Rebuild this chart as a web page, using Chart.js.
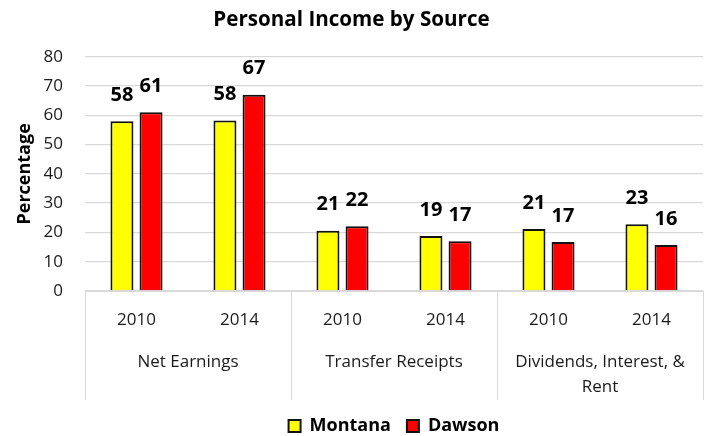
<!DOCTYPE html>
<html>
<head>
<meta charset="utf-8">
<script src="https://cdn.jsdelivr.net/npm/chart.js@4.4.1/dist/chart.umd.min.js"></script>
<style>
	html, body { margin:0; padding:0; background:#fff; }
	#wrap { width:705px; height:436px; position:relative; }
</style>
</head>
<body>
<div id="wrap"><canvas id="canvas"></canvas></div>
<script>
// chart data
var years = ['2010', '2014', '2010', '2014', '2010', '2014'];
var groups = ['Net Earnings', 'Transfer Receipts', ['Dividends, Interest, &', 'Rent']];
var montana = [58.0, 58.2, 20.6, 18.8, 21.2, 22.8];
var dawson = [61.0, 67.0, 22.1, 17.0, 16.7, 15.7];
var yTicks = [0, 10, 20, 30, 40, 50, 60, 70, 80];

Chart.defaults.font.family = "'Open Sans', sans-serif";
Chart.defaults.color = '#222';

// bold value on top of each bar
var barLabels = {
	id: 'barLabels',
	afterDatasetsDraw: function(chart) {
		var ctx = chart.ctx;
		ctx.save();
		ctx.font = 'bold 20px "Open Sans"';
		ctx.fillStyle = '#000';
		ctx.textAlign = 'center';
		ctx.textBaseline = 'middle';
		chart.data.datasets.forEach(function(ds, i) {
			chart.getDatasetMeta(i).data.forEach(function(bar, j) {
				ctx.fillText(Math.round(ds.data[j]), bar.x, bar.y - 26);
			});
		});
		ctx.restore();
	}
};

// vertical separators between the category groups
var groupLines = {
	id: 'groupLines',
	afterDraw: function(chart) {
		var x = chart.scales.x;
		var x2 = chart.scales.x2;
		var ctx = chart.ctx;
		var edges = [x.left];
		for (var i = 1; i < years.length; i += 2) {
			if (i + 1 < years.length) edges.push((x.getPixelForValue(i) + x.getPixelForValue(i + 1)) / 2);
		}
		edges.push(x.right);
		ctx.save();
		ctx.strokeStyle = '#d9d9d9';
		ctx.lineWidth = 1;
		edges.forEach(function(px) {
			px = Math.round(px) + 0.5;
			ctx.beginPath();
			ctx.moveTo(px, chart.chartArea.bottom);
			ctx.lineTo(px, x2.top + 69);
			ctx.stroke();
		});
		ctx.restore();
	}
};

var ctx = canvas.getContext('2d');
var chart = new Chart(ctx, {
	type: 'bar',
	data: {
		labels: years,
		datasets: [{
			label: 'Montana',
			data: montana,
			backgroundColor: '#ffff00',
			borderColor: '#111',
			borderWidth: 2,
			categoryPercentage: 0.565,
			barPercentage: 0.79
		}, {
			label: 'Dawson',
			data: dawson,
			backgroundColor: '#ff0000',
			borderColor: '#111',
			borderWidth: 2,
			categoryPercentage: 0.565,
			barPercentage: 0.79
		}]
	},
	options: {
		responsive: true,
		maintainAspectRatio: false,
		animation: false,
		layout: { padding: { left: 0, right: 2, top: 0, bottom: -9 } },
		plugins: {
			title: {
				display: true,
				text: 'Personal Income by Source',
				color: '#000',
				font: { size: 20.6, weight: 'bold' },
				padding: { top: 8, bottom: 24 }
			},
			legend: {
				position: 'bottom',
				fullSize: false,
				labels: {
					color: '#000',
					font: { size: 18, weight: 'bold' },
					boxWidth: 12,
					boxHeight: 12,
					padding: 16
				}
			},
			tooltip: { enabled: false }
		},
		scales: {
			x: {
				grid: { display: false, drawTicks: false },
				border: { display: true, color: '#d9d9d9' },
				ticks: { font: { size: 17 }, padding: 19, color: '#1a1a1a' },
				afterFit: function(s) { s.height = 40; }
			},
			x2: {
				type: 'category',
				position: 'bottom',
				labels: groups,
				offset: true,
				grid: { display: false, drawTicks: false },
				border: { display: false },
				ticks: { font: { size: 17, lineHeight: 1.45 }, padding: 19, color: '#1a1a1a' },
				afterFit: function(s) { s.height = 70; }
			},
			y: {
				min: 0,
				max: 80,
				afterBuildTicks: function(s) {
					s.ticks = yTicks.map(function(v) { return { value: v }; });
				},
				grid: { color: '#d9d9d9', lineWidth: 1.3, drawTicks: false },
				border: { display: false },
				ticks: { font: { size: 17 }, padding: 22, color: '#1a1a1a' },
				title: {
					display: true,
					text: 'Percentage',
					color: '#000',
					font: { size: 18, weight: 'bold' },
					padding: { top: 14, bottom: 0 }
				},
				afterFit: function(s) { s.width = 85; }
			}
		}
	},
	plugins: [barLabels, groupLines]
});
</script>
</body>
</html>
